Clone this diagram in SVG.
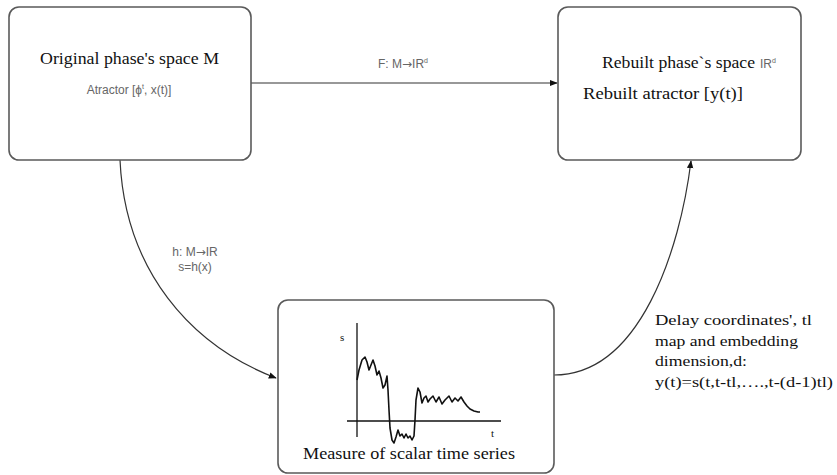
<svg xmlns="http://www.w3.org/2000/svg" width="837" height="475" viewBox="0 0 837 475">
<style>
.box{fill:#fff;stroke:#5a5a5a;stroke-width:1.6}
.con{fill:none;stroke:#333;stroke-width:1.2}
.serif{font-family:"Liberation Serif","Times New Roman",serif;fill:#111}
.sans{font-family:"Liberation Sans",Arial,sans-serif;fill:#666;font-size:12px}
.sup{font-size:7px}
.ar{font-family:"DejaVu Sans",sans-serif;font-size:12px}
</style>
<defs>
<marker id="arr" viewBox="0 0 10 10" refX="9" refY="5" markerWidth="8" markerHeight="8" markerUnits="userSpaceOnUse" orient="auto">
<path d="M0,1 L10,5 L0,9 Z" fill="#111"/>
</marker>
</defs>
<rect width="837" height="475" fill="#fff"/>
<g id="connectors">
<path class="con" d="M251,83 L557,83" marker-end="url(#arr)"/>
<path class="con" d="M120,160 C125,270 190,345 276,378" marker-end="url(#arr)"/>
<path class="con" d="M554,375 C640,375 680,250 691,161" marker-end="url(#arr)"/>
<text class="sans" x="403" y="68" text-anchor="middle">F: M<tspan class="ar">→</tspan>IR<tspan class="sup" dy="-5">d</tspan></text>
<text class="sans" x="195" y="256" text-anchor="middle">h: M<tspan class="ar">→</tspan>IR</text>
<text class="sans" x="195" y="271" text-anchor="middle">s=h(x)</text>
<g class="serif" font-size="15">
<text x="655" y="325" textLength="157" lengthAdjust="spacingAndGlyphs">Delay coordinates', tl</text>
<text x="655" y="346" textLength="143" lengthAdjust="spacingAndGlyphs">map and embedding</text>
<text x="655" y="366" textLength="92" lengthAdjust="spacingAndGlyphs">dimension,d:</text>
<text x="655" y="387" textLength="178" lengthAdjust="spacingAndGlyphs">y(t)=s(t,t-tl,….,t-(d-1)tl)</text>
</g>
</g>
<g id="original">
<rect class="box" x="9" y="7" width="242" height="153" rx="10"/>
<text class="serif" x="40" y="64" font-size="17" textLength="179" lengthAdjust="spacingAndGlyphs">Original phase's space M</text>
<text class="sans" x="129" y="94" text-anchor="middle">Atractor [ϕ<tspan class="sup" dy="-5">t</tspan><tspan dy="5">, x(t)]</tspan></text>
</g>
<g id="rebuilt">
<rect class="box" x="558" y="7" width="243" height="153" rx="10"/>
<text class="serif" x="602" y="68" font-size="16" textLength="153" lengthAdjust="spacingAndGlyphs">Rebuilt phase`s space</text>
<text class="sans" x="760" y="68">IR<tspan class="sup" dy="-5">d</tspan></text>
<text class="serif" x="583" y="99" font-size="16" textLength="160" lengthAdjust="spacingAndGlyphs">Rebuilt atractor [y(t)]</text>
</g>
<g id="measure">
<rect class="box" x="278" y="300" width="276" height="173" rx="10"/>
<line x1="357" y1="323" x2="357" y2="437" stroke="#111" stroke-width="1.3"/>
<line x1="347" y1="421" x2="501" y2="421" stroke="#111" stroke-width="1.3"/>
<text class="serif" x="340" y="341" font-size="11">s</text>
<text class="serif" x="491" y="437" font-size="11">t</text>
<polyline fill="none" stroke="#111" stroke-width="1.6" stroke-linejoin="round" points="357,380 359,370 362,360 365,357 367,362 369,370 371,365 373,360 375,366 377,375 379,371 381,378 383,388 385,385 387,376 388,390 389,410 390,428 392,440 394,443 396,437 398,430 400,436 402,434 404,438 406,434 408,438 410,436 412,440 414,436 415,420 416,400 418,388 420,392 422,403 424,398 426,396 428,402 430,399 433,396 436,402 439,397 442,404 445,400 449,396 452,402 455,398 458,401 461,397 464,402 467,406 470,409 474,411 478,412 480,412"/>
<text class="serif" x="303" y="459" font-size="16" textLength="212" lengthAdjust="spacingAndGlyphs">Measure of scalar time series</text>
</g>
</svg>
